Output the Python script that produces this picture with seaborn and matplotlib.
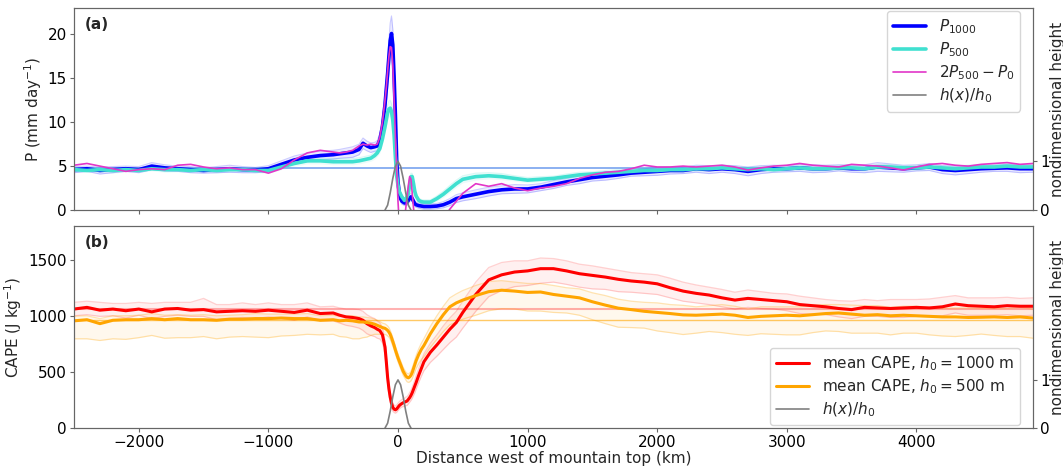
import numpy as np
import matplotlib
matplotlib.use("Agg")
import matplotlib.pyplot as plt
import seaborn as sns

# distance west of mountain top (km): coarse far field, fine near the mountain
x_far = list(range(-2500, -500, 100))
x_mid = [-500, -450, -400, -350, -300, -270, -240, -210, -180, -160, -140, -120, -100,
         -90, -80, -70, -60, -50, -40, -30, -20, -10, 0, 10, 20, 30, 40, 50, 60, 70, 80, 90,
         100, 110, 120, 130, 140,
         160, 180, 200, 250, 300, 350, 400, 450]
x_right = list(range(500, 4901, 100))
dist_km = np.array(x_far + x_mid + x_right)

# panel (a): precipitation (mm/day)
p1000 = [4.6, 4.7, 4.5, 4.6, 4.7, 4.6, 5.0, 4.8, 4.7, 4.6, 4.5, 4.6, 4.7, 4.6, 4.55, 4.7, 5.2, 5.7, 6.0, 6.2,
         6.3, 6.4, 6.5, 6.6, 6.9, 7.6, 7.3, 7.1, 7.2, 7.3, 8.0, 9.5, 12.0,
         13.8, 15.5, 17.5, 19.3, 20.1, 18.8, 15.2, 10.8, 5.7, 3.2, 2.0, 1.3, 1.0, 0.9, 0.8, 0.8, 0.9, 1.1, 1.4, 1.5, 1.3, 1.0, 0.7, 0.6,
         0.5, 0.45, 0.4, 0.4, 0.45, 0.6, 0.9, 1.3,
         1.5, 1.8, 2.1, 2.3, 2.4,
         2.4, 2.6, 2.9, 3.2, 3.45, 3.7, 3.85, 4.0, 4.2, 4.3,
         4.4, 4.5, 4.5, 4.7, 4.6, 4.7, 4.6, 4.4, 4.6, 4.7,
         4.7, 4.8, 4.7, 4.7, 4.8, 4.7, 4.7, 4.9, 4.8, 4.7,
         4.8, 4.9, 4.6, 4.5, 4.6, 4.7, 4.75, 4.8, 4.7, 4.7]
p1000_spread = [0.35, 0.3, 0.4, 0.35, 0.3, 0.35, 0.4, 0.35, 0.3, 0.35, 0.3, 0.35, 0.4, 0.35, 0.3, 0.35, 0.4, 0.45, 0.5, 0.5,
                0.5, 0.5, 0.55, 0.6, 0.6, 0.6, 0.55, 0.55, 0.5, 0.6, 0.7, 0.9, 1.2,
                1.4, 1.6, 1.8, 2.0, 2.0, 1.8, 1.5, 1.2, 0.9, 0.7, 0.5, 0.4, 0.35, 0.3, 0.3, 0.3, 0.3, 0.35, 0.4, 0.4, 0.35, 0.3, 0.3, 0.3,
                0.3, 0.3, 0.3, 0.3, 0.3, 0.35, 0.4, 0.45,
                0.45, 0.5, 0.5, 0.45, 0.5,
                0.45, 0.4, 0.45, 0.4, 0.45, 0.4, 0.45, 0.4, 0.35, 0.4,
                0.45, 0.4, 0.35, 0.4, 0.45, 0.4, 0.45, 0.5, 0.45, 0.4,
                0.35, 0.4, 0.45, 0.4, 0.35, 0.4, 0.45, 0.5, 0.45, 0.4,
                0.35, 0.4, 0.45, 0.5, 0.45, 0.4, 0.35, 0.4, 0.45, 0.4]
p500 = [4.6, 4.5, 4.6, 4.5, 4.6, 4.5, 4.7, 4.6, 4.6, 4.5, 4.6, 4.5, 4.6, 4.6, 4.5, 4.5, 4.9, 5.3, 5.6, 5.6,
        5.5, 5.5, 5.5, 5.5, 5.6, 5.7, 5.8, 5.9, 6.2, 6.5, 7.0, 8.1, 9.5,
        10.3, 11.1, 11.5, 11.6, 11.2, 10.2, 8.5, 6.0, 3.9, 2.8, 2.1, 1.8, 1.5, 1.3, 1.1, 1.2, 1.5, 1.9, 2.8, 3.8, 3.8, 3.0, 2.1, 1.6,
        1.1, 0.95, 0.9, 0.9, 1.3, 1.8, 2.4, 3.0,
        3.5, 3.8, 3.9, 3.8, 3.6,
        3.4, 3.5, 3.6, 3.8, 4.0, 4.1, 4.2, 4.3, 4.4, 4.5,
        4.5, 4.6, 4.6, 4.7, 4.7, 4.8, 4.7, 4.6, 4.7, 4.6,
        4.7, 4.8, 4.7, 4.7, 4.8, 4.8, 4.7, 4.9, 4.9, 4.8,
        4.8, 4.9, 4.8, 4.7, 4.8, 4.9, 4.9, 5.0, 4.9, 4.9]
p500_spread = [0.25, 0.2, 0.25, 0.3, 0.25, 0.2, 0.25, 0.3, 0.25, 0.2, 0.25, 0.3, 0.25, 0.2, 0.25, 0.3, 0.3, 0.3, 0.35, 0.35,
               0.35, 0.35, 0.35, 0.35, 0.35, 0.35, 0.35, 0.35, 0.4, 0.4, 0.5, 0.6, 0.7,
               0.8, 0.9, 0.9, 0.9, 0.9, 0.8, 0.7, 0.6, 0.5, 0.4, 0.3, 0.3, 0.25, 0.25, 0.25, 0.25, 0.3, 0.3, 0.35, 0.4, 0.35, 0.3, 0.3, 0.25,
               0.25, 0.25, 0.25, 0.25, 0.3, 0.35, 0.4, 0.4,
               0.4, 0.4, 0.35, 0.35, 0.3,
               0.3, 0.3, 0.25, 0.3, 0.3, 0.25, 0.3, 0.3, 0.25, 0.3,
               0.3, 0.25, 0.3, 0.3, 0.25, 0.3, 0.3, 0.25, 0.3, 0.3,
               0.25, 0.3, 0.3, 0.25, 0.3, 0.3, 0.25, 0.3, 0.3, 0.25,
               0.3, 0.3, 0.25, 0.3, 0.3, 0.25, 0.3, 0.3, 0.25, 0.3]
p_diff = [5.1, 5.3, 5.0, 4.7, 4.4, 4.6, 4.7, 4.6, 5.1, 5.2, 4.9, 4.7, 4.8, 4.6, 4.6, 4.2, 4.7, 5.7, 6.5, 6.8,
          6.6, 6.5, 6.6, 6.8, 7.3, 7.5, 7.4, 7.5, 7.4, 7.5, 8.3, 10.0, 12.5,
          14.0, 15.8, 17.5, 18.6, 18.5, 16.5, 12.5, 8.5, 4.6, 1.0, -1.5, -2.0, -2.0, -1.5, -1.0, 0.2, 1.5, 2.8, 3.8, 3.5, 1.9, 0.2, -1.5, -2.0,
          -2.0, -2.0, -2.0, -2.0, -2.0, -1.0, 0.1, 1.0,
          1.9, 3.0, 2.7, 3.0, 2.5,
          2.2, 2.5, 2.7, 3.0, 3.6, 4.0, 4.3, 4.4, 4.7, 5.1,
          4.9, 4.9, 5.0, 4.9, 5.0, 5.1, 4.9, 4.55, 4.8, 5.0,
          5.1, 5.3, 5.1, 5.0, 4.9, 5.2, 5.1, 5.0, 4.8, 4.55,
          4.9, 5.2, 5.3, 5.1, 5.0, 5.2, 5.3, 5.4, 5.2, 5.3]
p_ref = 4.75

# panel (b): CAPE (J/kg)
cape1000 = [1060, 1075, 1050, 1060, 1045, 1060, 1035, 1060, 1065, 1050, 1055, 1035, 1040, 1045, 1040, 1050, 1040, 1030, 1050, 1020,
            1025, 1005, 990, 985, 975, 960, 930, 910, 895, 880, 868, 830, 720,
            590, 450, 350, 275, 220, 185, 168, 162, 170, 185, 200, 210, 218, 225, 230, 235, 240, 255, 270, 290, 315, 345, 375, 405,
            470, 530, 590, 675, 740, 810, 880, 940,
            1030, 1190, 1320, 1365, 1390,
            1400, 1420, 1420, 1400, 1375, 1360, 1345, 1325, 1310, 1300,
            1285, 1250, 1220, 1200, 1185, 1160, 1140, 1155, 1145, 1135,
            1125, 1100, 1090, 1080, 1065, 1055, 1075, 1070, 1065, 1070,
            1075, 1070, 1080, 1105, 1090, 1085, 1080, 1090, 1085, 1085]
cape1000_up = [60, 55, 70, 50, 65, 60, 75, 60, 55, 70, 100, 65, 60, 70, 60, 65, 60, 70, 65, 60,
               60, 65, 70, 75, 80, 80, 80, 80, 80, 75, 70, 65, 60,
               60, 55, 50, 45, 40, 40, 35, 35, 35, 35, 35, 35, 35, 35, 35, 40, 40, 40, 45, 45, 50, 50, 55, 60,
               60, 65, 70, 80, 90, 100, 100, 100,
               100, 110, 110, 110, 100,
               90, 95, 90, 90, 85, 85, 80, 80, 75, 75,
               80, 85, 80, 75, 70, 75, 70, 75, 70, 65,
               70, 75, 70, 65, 70, 75, 70, 65, 80, 75,
               70, 80, 85, 75, 70, 75, 80, 75, 70, 75]
cape1000_dn = [60, 65, 55, 60, 65, 55, 60, 65, 60, 55, 60, 70, 65, 60, 65, 60, 65, 70, 60, 65,
               70, 70, 75, 80, 85, 90, 90, 85, 80, 80, 75, 70, 65,
               60, 55, 50, 45, 40, 35, 30, 30, 30, 30, 30, 30, 30, 35, 35, 35, 40, 40, 40, 45, 50, 55, 60, 60,
               65, 70, 80, 90, 100, 110, 120, 130,
               140, 150, 150, 140, 130,
               130, 130, 120, 120, 120, 120, 110, 110, 100, 100,
               95, 90, 90, 85, 85, 80, 80, 80, 80, 75,
               80, 80, 75, 70, 75, 80, 80, 75, 80, 85,
               80, 75, 80, 80, 85, 80, 75, 80, 85, 80]
cape500 = [955, 965, 930, 960, 965, 965, 975, 965, 975, 965, 965, 960, 970, 970, 975, 975, 980, 975, 975, 960,
           965, 955, 960, 955, 945, 945, 940, 935, 925, 915, 905, 895, 888,
           880, 870, 855, 835, 805, 770, 735, 695, 660, 625, 595, 565, 535, 505, 485, 465, 452, 447, 455, 470, 495, 530, 565, 600,
           655, 700, 735, 840, 930, 1010, 1080, 1115,
           1140, 1180, 1215, 1228, 1220,
           1208, 1212, 1190, 1175, 1160, 1125, 1095, 1068, 1055, 1040,
           1030, 1020, 1008, 1005, 1010, 1015, 1005, 985, 995, 1000,
           1005, 1000, 1010, 1020, 1025, 1015, 1005, 1010, 1000, 1005,
           1000, 995, 990, 990, 985, 987, 990, 985, 990, 980]
cape500_up = [40, 35, 45, 40, 35, 40, 45, 40, 35, 40, 45, 40, 35, 40, 45, 40, 35, 40, 45, 40,
              40, 40, 40, 45, 45, 45, 45, 45, 45, 45, 45, 40, 40,
              40, 40, 40, 35, 35, 35, 35, 35, 35, 35, 35, 35, 35, 35, 35, 35, 35, 35, 35, 35, 40, 40, 45, 45,
              50, 55, 60, 65, 70, 75, 80, 80,
              85, 90, 90, 85, 80,
              80, 75, 80, 75, 80, 80, 85, 80, 75, 80,
              85, 80, 85, 75, 80, 85, 80, 75, 85, 80,
              75, 80, 85, 80, 75, 80, 85, 80, 75, 80,
              85, 80, 75, 80, 85, 80, 75, 80, 85, 80]
cape500_dn = [160, 170, 150, 165, 175, 160, 150, 165, 170, 160, 150, 165, 160, 155, 165, 170, 160, 150, 140, 130,
              130, 140, 150, 160, 150, 140, 130, 110, 90, 80, 70, 60, 55,
              50, 50, 45, 45, 40, 40, 35, 35, 35, 35, 35, 35, 35, 35, 35, 35, 40, 40, 45, 50, 55, 60, 65, 70,
              80, 90, 100, 120, 140, 150, 160, 170,
              170, 175, 170, 165, 160,
              165, 170, 160, 150, 155, 160, 165, 170, 160, 150,
              165, 170, 175, 160, 150, 165, 170, 160, 155, 165,
              175, 170, 160, 155, 165, 170, 160, 165, 170, 160,
              155, 165, 170, 175, 160, 150, 165, 170, 175, 180]
cape1000_ref = 1063
cape500_ref = 963

# mountain profile h(x)/h0
mountain_km = [-100, -80, -60, -40, -20, 0, 20, 40, 60, 80, 100]
mountain_h = [0.0, 0.1, 0.35, 0.65, 0.9, 1.0, 0.9, 0.65, 0.35, 0.1, 0.0]

sns.set_style("ticks")
plt.rcParams["font.family"] = ["DejaVu Sans"]
plt.rcParams["axes.edgecolor"] = "0.4"
plt.rcParams["xtick.color"] = "0.4"
plt.rcParams["ytick.color"] = "0.4"
plt.rcParams["xtick.labelcolor"] = "black"
plt.rcParams["ytick.labelcolor"] = "black"
fs = 11

fig = plt.figure(figsize=(10.63, 4.69), dpi=100)
ax_a = fig.add_axes([0.0696, 0.5522, 0.9022, 0.4307])
ax_b = fig.add_axes([0.0696, 0.0874, 0.9022, 0.4307])

p1000 = np.array(p1000)
p500 = np.array(p500)
p1000_spread = np.array(p1000_spread)
p500_spread = np.array(p500_spread)

# ---- panel (a)
ax_a.axhline(p_ref, color="cornflowerblue", lw=1.3, alpha=0.8)
ax_a.fill_between(dist_km, p1000 - p1000_spread, p1000 + p1000_spread, color="blue", alpha=0.08, lw=0)
ax_a.plot(dist_km, p1000 - p1000_spread, color="blue", alpha=0.2, lw=0.8)
ax_a.plot(dist_km, p1000 + p1000_spread, color="blue", alpha=0.2, lw=0.8)
ax_a.fill_between(dist_km, p500 - p500_spread, p500 + p500_spread, color="turquoise", alpha=0.1, lw=0)
ax_a.plot(dist_km, p500 + p500_spread, color="turquoise", alpha=0.2, lw=0.8)
sns.lineplot(x=dist_km, y=p1000, color="blue", lw=2.6, ax=ax_a, label=r"$P_{1000}$")
sns.lineplot(x=dist_km, y=p500, color="turquoise", lw=2.6, ax=ax_a, label=r"$P_{500}$")
sns.lineplot(x=dist_km, y=p_diff, color="#e236c8", lw=1.2, ax=ax_a, label=r"$2P_{500}-P_0$")
if ax_a.get_legend() is not None:
    ax_a.get_legend().remove()

ax_a.set_xlim(-2500, 4900)
ax_a.set_ylim(0, 23)
ax_a.set_yticks([0, 5, 10, 15, 20])
ax_a.set_xticks(range(-2000, 4001, 1000))
ax_a.tick_params(labelbottom=False, labelsize=fs, length=3, pad=2)
ax_a.set_ylabel(r"P (mm day$^{-1}$)", fontsize=fs, labelpad=3)
ax_a.text(0.011, 0.955, "(a)", transform=ax_a.transAxes, fontsize=fs, fontweight="bold", va="top")

ax_a2 = ax_a.twinx()
sns.lineplot(x=mountain_km, y=mountain_h, color="gray", lw=1.2, ax=ax_a2, label=r"$h(x)/h_0$")
ax_a2.set_ylim(0, 4.15)
ax_a2.set_yticks([0, 1])
ax_a2.tick_params(labelsize=fs, length=3, pad=2)
ax_a2.set_ylabel("nondimensional height", fontsize=fs, labelpad=0)
h1, l1 = ax_a.get_legend_handles_labels()
h2, l2 = ax_a2.get_legend_handles_labels()
ax_a2.legend(h1 + h2, l1 + l2, loc="upper right", fontsize=fs, bbox_to_anchor=(0.99, 1.0),
             borderaxespad=0.2, handlelength=2.2, labelspacing=0.3)

# ---- panel (b)
c1 = np.array(cape1000)
c5 = np.array(cape500)
c1_hi = c1 + np.array(cape1000_up)
c1_lo = c1 - np.array(cape1000_dn)
c5_hi = c5 + np.array(cape500_up)
c5_lo = c5 - np.array(cape500_dn)

ax_b.axhline(cape1000_ref, color="red", lw=1.5, alpha=0.3)
ax_b.axhline(cape500_ref, color="orange", lw=1.0, alpha=0.6)
ax_b.fill_between(dist_km, c1_lo, c1_hi, color="red", alpha=0.06, lw=0)
ax_b.plot(dist_km, c1_lo, color="red", alpha=0.18, lw=0.9)
ax_b.plot(dist_km, c1_hi, color="red", alpha=0.18, lw=0.9)
ax_b.fill_between(dist_km, c5_lo, c5_hi, color="orange", alpha=0.07, lw=0)
ax_b.plot(dist_km, c5_lo, color="orange", alpha=0.3, lw=0.9)
ax_b.plot(dist_km, c5_hi, color="orange", alpha=0.3, lw=0.9)
sns.lineplot(x=dist_km, y=c1, color="red", lw=2.2, ax=ax_b, label=r"mean CAPE, $h_0 = 1000$ m")
sns.lineplot(x=dist_km, y=c5, color="orange", lw=2.2, ax=ax_b, label=r"mean CAPE, $h_0 = 500$ m")
if ax_b.get_legend() is not None:
    ax_b.get_legend().remove()

ax_b.set_xlim(-2500, 4900)
ax_b.set_ylim(0, 1800)
ax_b.set_yticks([0, 500, 1000, 1500])
ax_b.set_xticks(range(-2000, 4001, 1000))
ax_b.tick_params(labelsize=fs, length=3, pad=2)
ax_b.set_ylabel(r"CAPE (J kg$^{-1}$)", fontsize=fs, labelpad=3)
ax_b.set_xlabel("Distance west of mountain top (km)", fontsize=fs, labelpad=1)
ax_b.text(0.011, 0.955, "(b)", transform=ax_b.transAxes, fontsize=fs, fontweight="bold", va="top")

ax_b2 = ax_b.twinx()
sns.lineplot(x=mountain_km, y=mountain_h, color="gray", lw=1.2, ax=ax_b2, label=r"$h(x)/h_0$")
ax_b2.set_ylim(0, 4.2)
ax_b2.set_yticks([0, 1])
ax_b2.tick_params(labelsize=fs, length=3, pad=2)
ax_b2.set_ylabel("nondimensional height", fontsize=fs, labelpad=0)
h1, l1 = ax_b.get_legend_handles_labels()
h2, l2 = ax_b2.get_legend_handles_labels()
ax_b2.legend(h1 + h2, l1 + l2, loc="lower right", fontsize=fs, bbox_to_anchor=(0.99, 0.0),
             borderaxespad=0.2, handlelength=2.2, labelspacing=0.3)

fig.savefig("out.png", dpi=100)
